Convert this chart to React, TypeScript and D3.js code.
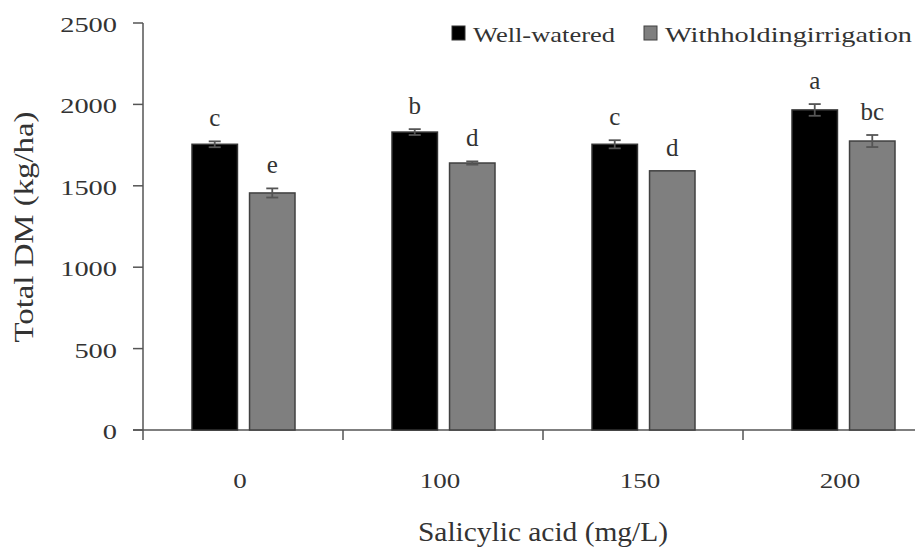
import React from "react";
import * as d3 from "d3";

const categories = ["0", "100", "150", "200"];
const series = ["Well-watered", "Withholdingirrigation"];
const wellWatered = [1755, 1830, 1755, 1966];
const withholding = [1456, 1640, 1592, 1775];
const wellErr = [18, 18, 25, 36];
const withErr = [28, 10, 0, 37];
const wellLetters = ["c", "b", "c", "a"];
const withLetters = ["e", "d", "d", "bc"];
const yTicks = [0, 500, 1000, 1500, 2000, 2500];

const W = 915;
const H = 549;
const textColor = "#333";
const axisColor = "#555";
const fills = ["#000000", "#7f7f7f"];
const strokes = ["#333333", "#404040"];
const font = "'Liberation Serif', 'Times New Roman', Times, serif";

export default function App() {
  const x = d3.scaleBand<string>().domain(categories).range([143, 943]).padding(0);
  const xs = d3
    .scaleBand<string>()
    .domain(series)
    .range([49, 152])
    .paddingInner(0.21)
    .paddingOuter(0);
  const y = d3.scaleLinear().domain([0, 2500]).range([430, 23]);

  const data = categories.map((c, i) => ({
    cat: c,
    vals: [
      { s: series[0], v: wellWatered[i], e: wellErr[i], l: wellLetters[i] },
      { s: series[1], v: withholding[i], e: withErr[i], l: withLetters[i] },
    ],
  }));

  const xEnd = 943;
  const tStyle = { fontFamily: font, fill: textColor } as React.CSSProperties;

  return (
    <svg width={W} height={H} style={{ position: "absolute", left: 0, top: 0 }}>
      <rect x={0} y={0} width={W} height={H} fill="#fff" />
      <line x1={143} x2={143} y1={y(2500)} y2={y(0)} stroke={axisColor} strokeWidth={1.5} />
      {yTicks.map((t) => (
        <g key={t}>
          <line x1={133} x2={143} y1={y(t)} y2={y(t)} stroke={axisColor} strokeWidth={1.5} />
          <text
            x={117}
            y={y(t) + 9}
            textAnchor="end"
            style={{ ...tStyle, fontSize: 21 }}
            textLength={String(t).length * 14.2}
            lengthAdjust="spacingAndGlyphs"
          >
            {t}
          </text>
        </g>
      ))}
      <line x1={133} x2={xEnd} y1={y(0)} y2={y(0)} stroke={axisColor} strokeWidth={1.5} />
      {categories.map((c) => (
        <line
          key={"t" + c}
          x1={x(c)!}
          x2={x(c)!}
          y1={y(0)}
          y2={y(0) + 10}
          stroke={axisColor}
          strokeWidth={1.5}
        />
      ))}
      {categories.map((c) => (
        <text
          key={"l" + c}
          x={x(c)! + x.bandwidth() / 2 - 3}
          y={488}
          textAnchor="middle"
          style={{ ...tStyle, fontSize: 22 }}
          textLength={c.length * 13.5}
          lengthAdjust="spacingAndGlyphs"
        >
          {c}
        </text>
      ))}
      {data.map((d) => (
        <g key={d.cat} transform={`translate(${x(d.cat)},0)`}>
          {d.vals.map((v, j) => {
            const bx = xs(v.s)!;
            const bw = xs.bandwidth();
            const cx = bx + bw / 2;
            return (
              <g key={v.s}>
                <rect
                  x={bx}
                  y={y(v.v)}
                  width={bw}
                  height={y(0) - y(v.v)}
                  fill={fills[j]}
                  stroke={strokes[j]}
                  strokeWidth={1.5}
                />
                {v.e > 0 && (
                  <g stroke="#555" strokeWidth={1.8}>
                    <line x1={cx} x2={cx} y1={y(v.v + v.e)} y2={y(v.v - v.e)} />
                    <line x1={cx - 6} x2={cx + 6} y1={y(v.v + v.e)} y2={y(v.v + v.e)} />
                    <line x1={cx - 6} x2={cx + 6} y1={y(v.v - v.e)} y2={y(v.v - v.e)} />
                  </g>
                )}
                <text
                  x={cx}
                  y={y(v.v + v.e) - 15}
                  textAnchor="middle"
                  style={{ ...tStyle, fontSize: 25 }}
                >
                  {v.l}
                </text>
              </g>
            );
          })}
        </g>
      ))}
      <rect x={452} y={26} width={13} height={14} fill={fills[0]} stroke={strokes[0]} strokeWidth={1} />
      <text
        x={473}
        y={42}
        style={{ ...tStyle, fontSize: 22 }}
        textLength={142}
        lengthAdjust="spacingAndGlyphs"
      >
        {series[0]}
      </text>
      <rect x={644} y={26} width={13} height={14} fill={fills[1]} stroke={strokes[1]} strokeWidth={1} />
      <text
        x={665}
        y={42}
        style={{ ...tStyle, fontSize: 22 }}
        textLength={247}
        lengthAdjust="spacingAndGlyphs"
      >
        {series[1]}
      </text>
      <text
        x={543}
        y={541}
        textAnchor="middle"
        style={{ ...tStyle, fontSize: 27 }}
        textLength={250}
        lengthAdjust="spacingAndGlyphs"
      >
        Salicylic acid (mg/L)
      </text>
      <text
        transform={`translate(33,227) rotate(-90)`}
        textAnchor="middle"
        style={{ ...tStyle, fontSize: 27 }}
        textLength={231}
        lengthAdjust="spacingAndGlyphs"
      >
        Total DM (kg/ha)
      </text>
    </svg>
  );
}
